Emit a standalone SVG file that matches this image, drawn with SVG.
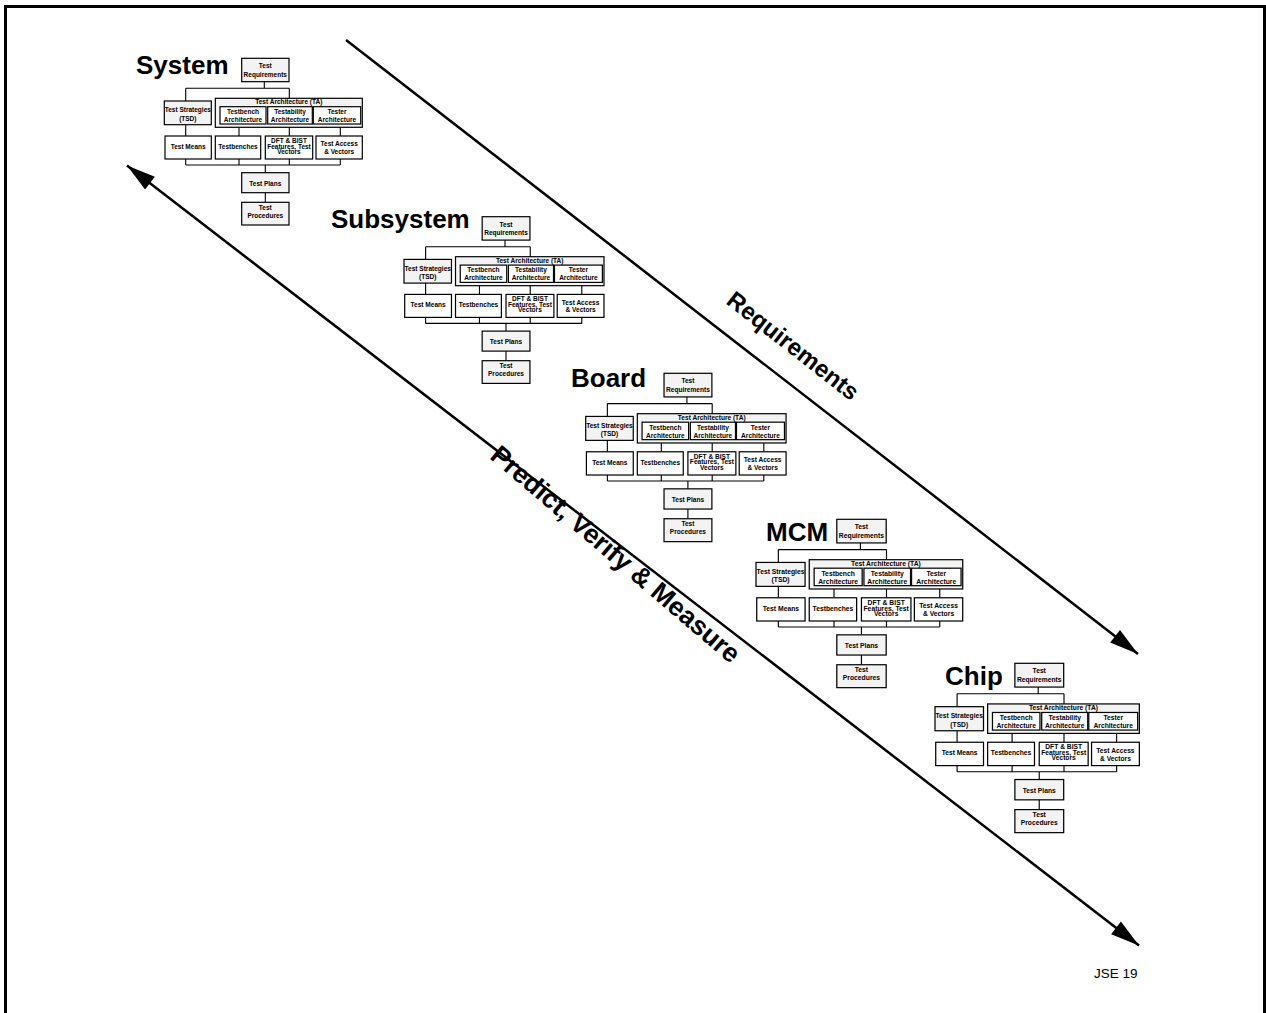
<svg xmlns="http://www.w3.org/2000/svg" width="1266" height="1013" viewBox="0 0 1266 1013">
<style>
.bg{fill:#fff}
.frame{fill:none;stroke:#000}
.gb{fill:#f3f3f3;stroke:#000;stroke-width:1.2}
.wb{fill:#fff;stroke:#000;stroke-width:1.2}
.t{font-family:"Liberation Sans",Arial,sans-serif;font-weight:bold;font-size:6.5px;text-anchor:middle;fill:#000}
.ttl{font-family:"Liberation Sans",Arial,sans-serif;font-weight:bold;font-size:26px;fill:#000}
.big{font-family:"Liberation Sans",Arial,sans-serif;font-weight:bold;font-size:24px;text-anchor:middle;fill:#000}
.big2{font-family:"Liberation Sans",Arial,sans-serif;font-weight:bold;font-size:26.5px;text-anchor:middle;fill:#000}
.ln{fill:none;stroke:#000;stroke-width:1.1}
.arr{fill:none;stroke:#000;stroke-width:2.5}
.foot{font-family:"Liberation Sans",Arial,sans-serif;font-size:13.5px;fill:#000}
</style>
<defs>
<marker id="ah" markerUnits="userSpaceOnUse" markerWidth="32" markerHeight="20" viewBox="-30 -10 32 20" refX="0" refY="0" orient="auto-start-reverse">
<path d="M0,0 L-29,-8 L-29,8 Z" fill="#000"/>
</marker>
</defs>
<rect class="bg" x="0" y="0" width="1266" height="1013"/>
<g id="frame">
<path class="frame" d="M5.5,1013 V6.5 H1264.5 V1013" stroke-width="3"/>
</g>

<g id="connectors">
<line class="arr" x1="346" y1="40" x2="1138" y2="654" marker-end="url(#ah)"/>
<line class="arr" x1="127" y1="165.5" x2="1139" y2="945.5" marker-start="url(#ah)" marker-end="url(#ah)"/>
<g transform="translate(164.3,58.3)"><path class="ln" d="M100,23.4V30M21.4,30H125M21.4,30V42.7M125,30V40M21.4,66.4V77.7M74.7,65.7V77.7M125,65.7V77.7M176,65.7V77.7M21.4,100.7V106.7M74.7,100.7V106.7M125,100.7V106.7M176,100.7V106.7M21.4,106.7H176M101,106.7V114.4M101,134.4V144"/></g>
<g transform="translate(404,216.7) scale(1.01,1)"><path class="ln" d="M100,23.4V30M21.4,30H125M21.4,30V42.7M125,30V40M21.4,66.4V77.7M74.7,65.7V77.7M125,65.7V77.7M176,65.7V77.7M21.4,100.7V106.7M74.7,100.7V106.7M125,100.7V106.7M176,100.7V106.7M21.4,106.7H176M101,106.7V114.4M101,134.4V144"/></g>
<g transform="translate(585.7,373.3) scale(1.012,1.01)"><path class="ln" d="M100,23.4V30M21.4,30H125M21.4,30V42.7M125,30V40M21.4,66.4V77.7M74.7,65.7V77.7M125,65.7V77.7M176,65.7V77.7M21.4,100.7V106.7M74.7,100.7V106.7M125,100.7V106.7M176,100.7V106.7M21.4,106.7H176M101,106.7V114.4M101,134.4V144"/></g>
<g transform="translate(756,519.3) scale(1.044,1.01)"><path class="ln" d="M100,23.4V30M21.4,30H125M21.4,30V42.7M125,30V40M21.4,66.4V77.7M74.7,65.7V77.7M125,65.7V77.7M176,65.7V77.7M21.4,100.7V106.7M74.7,100.7V106.7M125,100.7V106.7M176,100.7V106.7M21.4,106.7H176M101,106.7V114.4M101,134.4V144"/></g>
<g transform="translate(935,663.3) scale(1.032,1.016)"><path class="ln" d="M100,23.4V30M21.4,30H125M21.4,30V42.7M125,30V40M21.4,66.4V77.7M74.7,65.7V77.7M125,65.7V77.7M176,65.7V77.7M21.4,100.7V106.7M74.7,100.7V106.7M125,100.7V106.7M176,100.7V106.7M21.4,106.7H176M101,106.7V114.4M101,134.4V144"/></g>
</g>

<g id="label-requirements"><text class="big" transform="translate(793,346) rotate(38)" y="8">Requirements</text></g>
<g id="label-predict"><text class="big2" transform="translate(615,555) rotate(40.5)" y="8">Predict, Verify &amp; Measure</text></g>

<g id="title-system"><text class="ttl" x="136" y="74">System</text></g>
<g id="title-subsystem"><text class="ttl" x="331" y="228">Subsystem</text></g>
<g id="title-board"><text class="ttl" x="571" y="387">Board</text></g>
<g id="title-mcm"><text class="ttl" x="766" y="541">MCM</text></g>
<g id="title-chip"><text class="ttl" x="945" y="685">Chip</text></g>

<g id="block-system" transform="translate(164.3,58.3)">
<g id="sys-req"><rect class="gb" x="77.4" y="0" width="47.3" height="23.4"/><text class="t" x="101" y="10">Test</text><text class="t" x="101" y="18.3">Requirements</text></g>
<g id="sys-strat"><rect class="gb" x="0" y="42.7" width="47" height="23.7"/><text class="t" x="23.5" y="54">Test Strategies</text><text class="t" x="23.5" y="62.3">(TSD)</text></g>
<g id="sys-ta"><rect class="gb" x="51" y="40" width="147" height="29"/><text class="t" x="124.5" y="46">Test Architecture (TA)</text></g>
<g id="sys-tb"><rect class="wb" x="55.7" y="48.4" width="46" height="17.3"/><text class="t" x="78.7" y="55.7">Testbench</text><text class="t" x="78.7" y="63.7">Architecture</text></g>
<g id="sys-tya"><rect class="wb" x="103.4" y="48.4" width="44.6" height="17.3"/><text class="t" x="125.7" y="55.7">Testability</text><text class="t" x="125.7" y="63.7">Architecture</text></g>
<g id="sys-tsa"><rect class="wb" x="149" y="48.4" width="47.4" height="17.3"/><text class="t" x="172.7" y="55.7">Tester</text><text class="t" x="172.7" y="63.7">Architecture</text></g>
<g id="sys-means"><rect class="wb" x="0.7" y="77.7" width="46.3" height="23"/><text class="t" x="23.85" y="90.7">Test Means</text></g>
<g id="sys-benches"><rect class="wb" x="51" y="77.7" width="45.4" height="23"/><text class="t" x="73.7" y="90.7">Testbenches</text></g>
<g id="sys-dft"><rect class="wb" x="101" y="77.7" width="47.4" height="23"/><text class="t" x="124.7" y="84.5">DFT &amp; BIST</text><text class="t" x="124.7" y="90.3">Features, Test</text><text class="t" x="124.7" y="95.5">Vectors</text></g>
<g id="sys-access"><rect class="wb" x="151.7" y="77.7" width="46.3" height="23"/><text class="t" x="174.85" y="88">Test Access</text><text class="t" x="174.85" y="95.7">&amp; Vectors</text></g>
<g id="sys-plans"><rect class="gb" x="77.4" y="114.4" width="47.3" height="20"/><text class="t" x="101" y="127.3">Test Plans</text></g>
<g id="sys-proc"><rect class="gb" x="77.4" y="144" width="47.3" height="22.7"/><text class="t" x="101" y="151.3">Test</text><text class="t" x="101" y="159.3">Procedures</text></g>
</g>

<g id="block-subsystem" transform="translate(404,216.7) scale(1.01,1)">
<g id="sub-req"><rect class="gb" x="77.4" y="0" width="47.3" height="23.4"/><text class="t" x="101" y="10">Test</text><text class="t" x="101" y="18.3">Requirements</text></g>
<g id="sub-strat"><rect class="gb" x="0" y="42.7" width="47" height="23.7"/><text class="t" x="23.5" y="54">Test Strategies</text><text class="t" x="23.5" y="62.3">(TSD)</text></g>
<g id="sub-ta"><rect class="gb" x="51" y="40" width="147" height="29"/><text class="t" x="124.5" y="46">Test Architecture (TA)</text></g>
<g id="sub-tb"><rect class="wb" x="55.7" y="48.4" width="46" height="17.3"/><text class="t" x="78.7" y="55.7">Testbench</text><text class="t" x="78.7" y="63.7">Architecture</text></g>
<g id="sub-tya"><rect class="wb" x="103.4" y="48.4" width="44.6" height="17.3"/><text class="t" x="125.7" y="55.7">Testability</text><text class="t" x="125.7" y="63.7">Architecture</text></g>
<g id="sub-tsa"><rect class="wb" x="149" y="48.4" width="47.4" height="17.3"/><text class="t" x="172.7" y="55.7">Tester</text><text class="t" x="172.7" y="63.7">Architecture</text></g>
<g id="sub-means"><rect class="wb" x="0.7" y="77.7" width="46.3" height="23"/><text class="t" x="23.85" y="90.7">Test Means</text></g>
<g id="sub-benches"><rect class="wb" x="51" y="77.7" width="45.4" height="23"/><text class="t" x="73.7" y="90.7">Testbenches</text></g>
<g id="sub-dft"><rect class="wb" x="101" y="77.7" width="47.4" height="23"/><text class="t" x="124.7" y="84.5">DFT &amp; BIST</text><text class="t" x="124.7" y="90.3">Features, Test</text><text class="t" x="124.7" y="95.5">Vectors</text></g>
<g id="sub-access"><rect class="wb" x="151.7" y="77.7" width="46.3" height="23"/><text class="t" x="174.85" y="88">Test Access</text><text class="t" x="174.85" y="95.7">&amp; Vectors</text></g>
<g id="sub-plans"><rect class="gb" x="77.4" y="114.4" width="47.3" height="20"/><text class="t" x="101" y="127.3">Test Plans</text></g>
<g id="sub-proc"><rect class="gb" x="77.4" y="144" width="47.3" height="22.7"/><text class="t" x="101" y="151.3">Test</text><text class="t" x="101" y="159.3">Procedures</text></g>
</g>

<g id="block-board" transform="translate(585.7,373.3) scale(1.012,1.01)">
<g id="brd-req"><rect class="gb" x="77.4" y="0" width="47.3" height="23.4"/><text class="t" x="101" y="10">Test</text><text class="t" x="101" y="18.3">Requirements</text></g>
<g id="brd-strat"><rect class="gb" x="0" y="42.7" width="47" height="23.7"/><text class="t" x="23.5" y="54">Test Strategies</text><text class="t" x="23.5" y="62.3">(TSD)</text></g>
<g id="brd-ta"><rect class="gb" x="51" y="40" width="147" height="29"/><text class="t" x="124.5" y="46">Test Architecture (TA)</text></g>
<g id="brd-tb"><rect class="wb" x="55.7" y="48.4" width="46" height="17.3"/><text class="t" x="78.7" y="55.7">Testbench</text><text class="t" x="78.7" y="63.7">Architecture</text></g>
<g id="brd-tya"><rect class="wb" x="103.4" y="48.4" width="44.6" height="17.3"/><text class="t" x="125.7" y="55.7">Testability</text><text class="t" x="125.7" y="63.7">Architecture</text></g>
<g id="brd-tsa"><rect class="wb" x="149" y="48.4" width="47.4" height="17.3"/><text class="t" x="172.7" y="55.7">Tester</text><text class="t" x="172.7" y="63.7">Architecture</text></g>
<g id="brd-means"><rect class="wb" x="0.7" y="77.7" width="46.3" height="23"/><text class="t" x="23.85" y="90.7">Test Means</text></g>
<g id="brd-benches"><rect class="wb" x="51" y="77.7" width="45.4" height="23"/><text class="t" x="73.7" y="90.7">Testbenches</text></g>
<g id="brd-dft"><rect class="wb" x="101" y="77.7" width="47.4" height="23"/><text class="t" x="124.7" y="84.5">DFT &amp; BIST</text><text class="t" x="124.7" y="90.3">Features, Test</text><text class="t" x="124.7" y="95.5">Vectors</text></g>
<g id="brd-access"><rect class="wb" x="151.7" y="77.7" width="46.3" height="23"/><text class="t" x="174.85" y="88">Test Access</text><text class="t" x="174.85" y="95.7">&amp; Vectors</text></g>
<g id="brd-plans"><rect class="gb" x="77.4" y="114.4" width="47.3" height="20"/><text class="t" x="101" y="127.3">Test Plans</text></g>
<g id="brd-proc"><rect class="gb" x="77.4" y="144" width="47.3" height="22.7"/><text class="t" x="101" y="151.3">Test</text><text class="t" x="101" y="159.3">Procedures</text></g>
</g>

<g id="block-mcm" transform="translate(756,519.3) scale(1.044,1.01)">
<g id="mcm-req"><rect class="gb" x="77.4" y="0" width="47.3" height="23.4"/><text class="t" x="101" y="10">Test</text><text class="t" x="101" y="18.3">Requirements</text></g>
<g id="mcm-strat"><rect class="gb" x="0" y="42.7" width="47" height="23.7"/><text class="t" x="23.5" y="54">Test Strategies</text><text class="t" x="23.5" y="62.3">(TSD)</text></g>
<g id="mcm-ta"><rect class="gb" x="51" y="40" width="147" height="29"/><text class="t" x="124.5" y="46">Test Architecture (TA)</text></g>
<g id="mcm-tb"><rect class="wb" x="55.7" y="48.4" width="46" height="17.3"/><text class="t" x="78.7" y="55.7">Testbench</text><text class="t" x="78.7" y="63.7">Architecture</text></g>
<g id="mcm-tya"><rect class="wb" x="103.4" y="48.4" width="44.6" height="17.3"/><text class="t" x="125.7" y="55.7">Testability</text><text class="t" x="125.7" y="63.7">Architecture</text></g>
<g id="mcm-tsa"><rect class="wb" x="149" y="48.4" width="47.4" height="17.3"/><text class="t" x="172.7" y="55.7">Tester</text><text class="t" x="172.7" y="63.7">Architecture</text></g>
<g id="mcm-means"><rect class="wb" x="0.7" y="77.7" width="46.3" height="23"/><text class="t" x="23.85" y="90.7">Test Means</text></g>
<g id="mcm-benches"><rect class="wb" x="51" y="77.7" width="45.4" height="23"/><text class="t" x="73.7" y="90.7">Testbenches</text></g>
<g id="mcm-dft"><rect class="wb" x="101" y="77.7" width="47.4" height="23"/><text class="t" x="124.7" y="84.5">DFT &amp; BIST</text><text class="t" x="124.7" y="90.3">Features, Test</text><text class="t" x="124.7" y="95.5">Vectors</text></g>
<g id="mcm-access"><rect class="wb" x="151.7" y="77.7" width="46.3" height="23"/><text class="t" x="174.85" y="88">Test Access</text><text class="t" x="174.85" y="95.7">&amp; Vectors</text></g>
<g id="mcm-plans"><rect class="gb" x="77.4" y="114.4" width="47.3" height="20"/><text class="t" x="101" y="127.3">Test Plans</text></g>
<g id="mcm-proc"><rect class="gb" x="77.4" y="144" width="47.3" height="22.7"/><text class="t" x="101" y="151.3">Test</text><text class="t" x="101" y="159.3">Procedures</text></g>
</g>

<g id="block-chip" transform="translate(935,663.3) scale(1.032,1.016)">
<g id="chp-req"><rect class="gb" x="77.4" y="0" width="47.3" height="23.4"/><text class="t" x="101" y="10">Test</text><text class="t" x="101" y="18.3">Requirements</text></g>
<g id="chp-strat"><rect class="gb" x="0" y="42.7" width="47" height="23.7"/><text class="t" x="23.5" y="54">Test Strategies</text><text class="t" x="23.5" y="62.3">(TSD)</text></g>
<g id="chp-ta"><rect class="gb" x="51" y="40" width="147" height="29"/><text class="t" x="124.5" y="46">Test Architecture (TA)</text></g>
<g id="chp-tb"><rect class="wb" x="55.7" y="48.4" width="46" height="17.3"/><text class="t" x="78.7" y="55.7">Testbench</text><text class="t" x="78.7" y="63.7">Architecture</text></g>
<g id="chp-tya"><rect class="wb" x="103.4" y="48.4" width="44.6" height="17.3"/><text class="t" x="125.7" y="55.7">Testability</text><text class="t" x="125.7" y="63.7">Architecture</text></g>
<g id="chp-tsa"><rect class="wb" x="149" y="48.4" width="47.4" height="17.3"/><text class="t" x="172.7" y="55.7">Tester</text><text class="t" x="172.7" y="63.7">Architecture</text></g>
<g id="chp-means"><rect class="wb" x="0.7" y="77.7" width="46.3" height="23"/><text class="t" x="23.85" y="90.7">Test Means</text></g>
<g id="chp-benches"><rect class="wb" x="51" y="77.7" width="45.4" height="23"/><text class="t" x="73.7" y="90.7">Testbenches</text></g>
<g id="chp-dft"><rect class="wb" x="101" y="77.7" width="47.4" height="23"/><text class="t" x="124.7" y="84.5">DFT &amp; BIST</text><text class="t" x="124.7" y="90.3">Features, Test</text><text class="t" x="124.7" y="95.5">Vectors</text></g>
<g id="chp-access"><rect class="wb" x="151.7" y="77.7" width="46.3" height="23"/><text class="t" x="174.85" y="88">Test Access</text><text class="t" x="174.85" y="95.7">&amp; Vectors</text></g>
<g id="chp-plans"><rect class="gb" x="77.4" y="114.4" width="47.3" height="20"/><text class="t" x="101" y="127.3">Test Plans</text></g>
<g id="chp-proc"><rect class="gb" x="77.4" y="144" width="47.3" height="22.7"/><text class="t" x="101" y="151.3">Test</text><text class="t" x="101" y="159.3">Procedures</text></g>
</g>

<g id="footer"><text class="foot" x="1094" y="978">JSE 19</text></g>
</svg>
